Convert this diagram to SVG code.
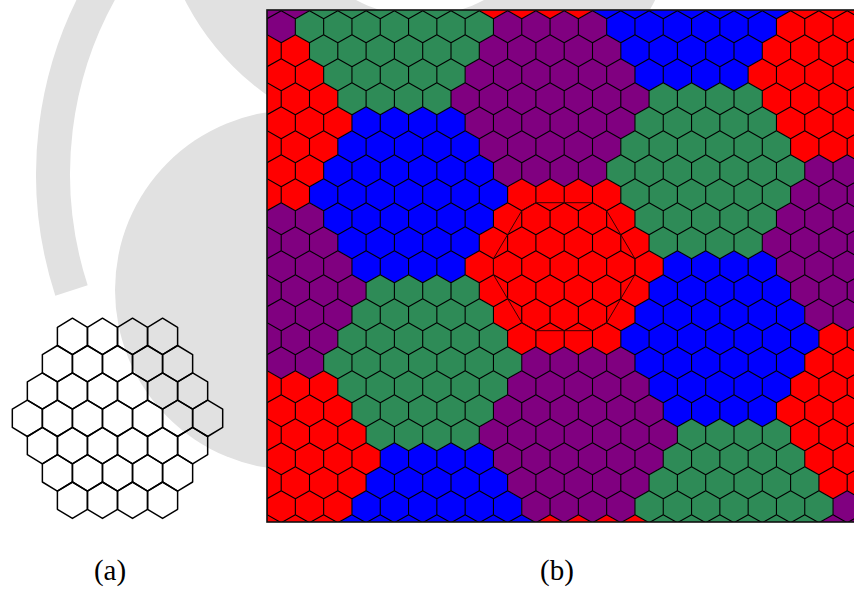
<svg xmlns="http://www.w3.org/2000/svg" xmlns:xlink="http://www.w3.org/1999/xlink" width="854" height="590" viewBox="0 0 854 590">
<style>
.wm{fill:#e1e1e1}
.wmb{fill:none;stroke:#e1e1e1;stroke-width:34}
.ha{fill:none;stroke:#000;stroke-width:1.5;stroke-linejoin:round}
.grid{fill:none;stroke:#000;stroke-width:1.1;stroke-linejoin:round}
.R{fill:#ff0000}.G{fill:#2e8b57}.B{fill:#0000ff}.P{fill:#800080}
.ring{fill:none;stroke:#3a0000;stroke-width:1}
.frame{fill:none;stroke:#111;stroke-width:1.6}
.lbl{font-family:"Liberation Serif","DejaVu Serif",serif;font-size:29px;fill:#000;text-anchor:middle}
</style>
<defs>
<polygon id="ha" points="0,-18.2 15.03,-9.1 15.03,9.1 0,18.2 -15.03,9.1 -15.03,-9.1"/>
<path id="cl" d="M-56.6-80L-42.45-88-28.3-80-14.15-88 0-80 14.15-88 28.3-80 42.45-88 56.6-80 56.6-64 70.75-56 70.75-40 84.9-32 84.9-16 99.05-8 99.05 8 84.9 16 84.9 32 70.75 40 70.75 56 56.6 64 56.6 80 42.45 88 28.3 80 14.15 88 0 80-14.15 88-28.3 80-42.45 88-56.6 80-56.6 64-70.75 56-70.75 40-84.9 32-84.9 16-99.05 8-99.05-8-84.9-16-84.9-32-70.75-40-70.75-56-56.6-64Z"/>
<path id="hrow" d="M-353.75-8l14.15-8 14.15 8 14.15-8 14.15 8 14.15-8 14.15 8 14.15-8 14.15 8 14.15-8 14.15 8 14.15-8 14.15 8 14.15-8 14.15 8 14.15-8 14.15 8 14.15-8 14.15 8 14.15-8 14.15 8 14.15-8 14.15 8 14.15-8 14.15 8 14.15-8 14.15 8 14.15-8 14.15 8 14.15-8 14.15 8 14.15-8 14.15 8 14.15-8 14.15 8 14.15-8 14.15 8 14.15-8 14.15 8 14.15-8 14.15 8 14.15-8 14.15 8 14.15-8 14.15 8 14.15-8 14.15 8 14.15-8 14.15 8M-353.75-8v16m28.3-16v16m28.3-16v16m28.3-16v16m28.3-16v16m28.3-16v16m28.3-16v16m28.3-16v16m28.3-16v16m28.3-16v16m28.3-16v16m28.3-16v16m28.3-16v16m28.3-16v16m28.3-16v16m28.3-16v16m28.3-16v16m28.3-16v16m28.3-16v16m28.3-16v16m28.3-16v16m28.3-16v16m28.3-16v16m28.3-16v16m28.3-16v16"/>
<clipPath id="clipb"><rect x="267" y="10" width="600" height="512"/></clipPath>
</defs>

<g id="watermark">
<circle class="wm" cx="295" cy="290" r="180"/>
<path class="wmb" d="M110.3,-25.8A377,377 0 0 0 71.5,290.5"/>
<path class="wm" fill-rule="evenodd" d="M156,-120a264,264 0 1 0 528,0a264,264 0 1 0 -528,0ZM284,-120a136,136 0 1 0 272,0a136,136 0 1 0 -272,0Z"/>
</g>

<g id="fig-a">
<use href="#ha" class="ha" x="72.43" y="336.4"/><use href="#ha" class="ha" x="102.48" y="336.4"/><use href="#ha" class="ha" x="132.53" y="336.4"/><use href="#ha" class="ha" x="162.58" y="336.4"/>
<use href="#ha" class="ha" x="57.4" y="363.7"/><use href="#ha" class="ha" x="87.45" y="363.7"/><use href="#ha" class="ha" x="117.5" y="363.7"/><use href="#ha" class="ha" x="147.55" y="363.7"/><use href="#ha" class="ha" x="177.6" y="363.7"/>
<use href="#ha" class="ha" x="42.38" y="391"/><use href="#ha" class="ha" x="72.43" y="391"/><use href="#ha" class="ha" x="102.48" y="391"/><use href="#ha" class="ha" x="132.53" y="391"/><use href="#ha" class="ha" x="162.58" y="391"/><use href="#ha" class="ha" x="192.63" y="391"/>
<use href="#ha" class="ha" x="27.35" y="418.3"/><use href="#ha" class="ha" x="57.4" y="418.3"/><use href="#ha" class="ha" x="87.45" y="418.3"/><use href="#ha" class="ha" x="117.5" y="418.3"/><use href="#ha" class="ha" x="147.55" y="418.3"/><use href="#ha" class="ha" x="177.6" y="418.3"/><use href="#ha" class="ha" x="207.65" y="418.3"/>
<use href="#ha" class="ha" x="42.38" y="445.6"/><use href="#ha" class="ha" x="72.43" y="445.6"/><use href="#ha" class="ha" x="102.48" y="445.6"/><use href="#ha" class="ha" x="132.53" y="445.6"/><use href="#ha" class="ha" x="162.58" y="445.6"/><use href="#ha" class="ha" x="192.63" y="445.6"/>
<use href="#ha" class="ha" x="57.4" y="472.9"/><use href="#ha" class="ha" x="87.45" y="472.9"/><use href="#ha" class="ha" x="117.5" y="472.9"/><use href="#ha" class="ha" x="147.55" y="472.9"/><use href="#ha" class="ha" x="177.6" y="472.9"/>
<use href="#ha" class="ha" x="72.43" y="500.2"/><use href="#ha" class="ha" x="102.48" y="500.2"/><use href="#ha" class="ha" x="132.53" y="500.2"/><use href="#ha" class="ha" x="162.58" y="500.2"/>
</g>

<g id="fig-b">
<g clip-path="url(#clipb)">
<g id="clusters">
<use href="#cl" class="P" x="238.75" y="-45.3"/>
<use href="#cl" class="R" x="252.9" y="122.7"/>
<use href="#cl" class="G" x="394.4" y="26.7"/>
<use href="#cl" class="R" x="535.9" y="-69.3"/>
<use href="#cl" class="P" x="267.05" y="290.7"/>
<use href="#cl" class="B" x="408.55" y="194.7"/>
<use href="#cl" class="P" x="550.05" y="98.7"/>
<use href="#cl" class="B" x="691.55" y="2.7"/>
<use href="#cl" class="R" x="281.2" y="458.7"/>
<use href="#cl" class="G" x="422.7" y="362.7"/>
<use href="#cl" class="R" x="564.2" y="266.7"/>
<use href="#cl" class="G" x="705.7" y="170.7"/>
<use href="#cl" class="R" x="847.2" y="74.7"/>
<use href="#cl" class="B" x="436.85" y="530.7"/>
<use href="#cl" class="P" x="578.35" y="434.7"/>
<use href="#cl" class="B" x="719.85" y="338.7"/>
<use href="#cl" class="P" x="861.35" y="242.7"/>
<use href="#cl" class="R" x="592.5" y="602.7"/>
<use href="#cl" class="G" x="734" y="506.7"/>
<use href="#cl" class="R" x="875.5" y="410.7"/>
<use href="#cl" class="P" x="889.65" y="578.7"/>
</g>
<g id="hexgrid" class="grid">
<use href="#hrow" x="578.35" y="2.7"/>
<use href="#hrow" x="564.2" y="26.7"/>
<use href="#hrow" x="578.35" y="50.7"/>
<use href="#hrow" x="564.2" y="74.7"/>
<use href="#hrow" x="578.35" y="98.7"/>
<use href="#hrow" x="564.2" y="122.7"/>
<use href="#hrow" x="578.35" y="146.7"/>
<use href="#hrow" x="564.2" y="170.7"/>
<use href="#hrow" x="578.35" y="194.7"/>
<use href="#hrow" x="564.2" y="218.7"/>
<use href="#hrow" x="578.35" y="242.7"/>
<use href="#hrow" x="564.2" y="266.7"/>
<use href="#hrow" x="578.35" y="290.7"/>
<use href="#hrow" x="564.2" y="314.7"/>
<use href="#hrow" x="578.35" y="338.7"/>
<use href="#hrow" x="564.2" y="362.7"/>
<use href="#hrow" x="578.35" y="386.7"/>
<use href="#hrow" x="564.2" y="410.7"/>
<use href="#hrow" x="578.35" y="434.7"/>
<use href="#hrow" x="564.2" y="458.7"/>
<use href="#hrow" x="578.35" y="482.7"/>
<use href="#hrow" x="564.2" y="506.7"/>
<use href="#hrow" x="578.35" y="530.7"/>
</g>
<polygon id="reuse-ring" class="ring" points="592.5,202.7 606.65,210.7 634.95,258.7 634.95,274.7 606.65,322.7 592.5,330.7 535.9,330.7 521.75,322.7 493.45,274.7 493.45,258.7 521.75,210.7 535.9,202.7"/>
</g>
<rect class="frame" x="267" y="10" width="600" height="512"/>
</g>

<g id="labels">
<text class="lbl" x="110" y="580">(a)</text>
<text class="lbl" x="557" y="580">(b)</text>
</g>
</svg>
